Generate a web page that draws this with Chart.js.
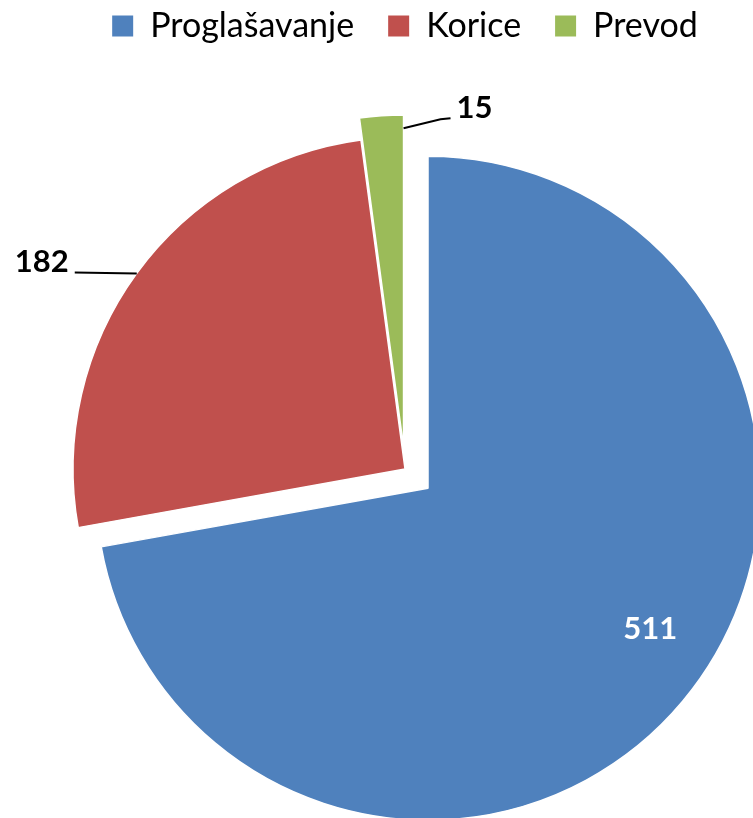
<!DOCTYPE html>
<html>
<head>
<meta charset="utf-8">
<script src="https://cdn.jsdelivr.net/npm/chart.js@4"></script>
<style>
  html, body { margin: 0; padding: 0; background: #fff; overflow: hidden; }
  #wrap { width: 753px; height: 885px; position: relative; }
</style>
</head>
<body>
<div id="wrap"><canvas id="c"></canvas></div>
<script>
// ---- data ----
const categories = ['Proglašavanje', 'Korice', 'Prevod'];
const values = [511, 182, 15];
const colors = ['#4F81BD', '#C0504D', '#9BBB59'];

// ---- style (not data) ----
const explode = [30, 0, 22];          // px each slice is pulled out along its mid angle
const FONT = 'Lato';

const explodePlugin = {
  id: 'explode',
  afterDatasetUpdate(chart, args) {
    const meta = chart.getDatasetMeta(args.index);
    meta.data.forEach((arc, i) => {
      const d = explode[i] || 0;
      const mid = (arc.startAngle + arc.endAngle) / 2;
      arc.x += Math.cos(mid) * d;
      arc.y += Math.sin(mid) * d;
    });
  }
};

const labelPlugin = {
  id: 'pieLabels',
  afterDatasetsDraw(chart) {
    const ctx = chart.ctx;
    const meta = chart.getDatasetMeta(0);
    const arcs = meta.data;
    ctx.save();
    ctx.font = 'bold 31px ' + FONT;
    ctx.lineWidth = 2;
    ctx.strokeStyle = '#000';

    // slice 0: inside label
    {
      const a = arcs[0];
      const ang = a.startAngle + 0.47 * (a.endAngle - a.startAngle);
      const r = 0.79 * a.outerRadius;
      const px = a.x + Math.cos(ang) * r, py = a.y + Math.sin(ang) * r;
      ctx.fillStyle = '#fff';
      ctx.textAlign = 'center';
      ctx.textBaseline = 'alphabetic';
      ctx.fillText(String(values[0]), px, py + 11);
    }
    // slice 1: outside left with leader
    {
      const a = arcs[1];
      const ang = (a.startAngle + a.endAngle) / 2;
      const sx = a.x + Math.cos(ang) * a.outerRadius, sy = a.y + Math.sin(ang) * a.outerRadius;
      ctx.beginPath();
      ctx.moveTo(sx, sy);
      ctx.lineTo(sx - 62, sy - 1);
      ctx.stroke();
      ctx.fillStyle = '#000';
      ctx.textAlign = 'right';
      ctx.textBaseline = 'alphabetic';
      ctx.fillText(String(values[1]), sx - 68, sy - 1.5);
    }
    // slice 2: outside top-right with leader
    {
      const a = arcs[2];
      const ang = a.endAngle;
      const r = 0.96 * a.outerRadius;
      const sx = a.x + Math.cos(ang) * r, sy = a.y + Math.sin(ang) * r;
      ctx.beginPath();
      ctx.moveTo(sx, sy);
      ctx.lineTo(sx + 37, sy - 9);
      ctx.lineTo(sx + 47, sy - 10);
      ctx.stroke();
      ctx.fillStyle = '#000';
      ctx.textAlign = 'left';
      ctx.textBaseline = 'alphabetic';
      ctx.fillText(String(values[2]), sx + 53, sy - 10);
    }
    ctx.restore();
  }
};

new Chart(document.getElementById('c'), {
  type: 'pie',
  data: {
    labels: categories,
    datasets: [{
      data: values,
      backgroundColor: colors,
      borderColor: '#ffffff',
      borderWidth: 1.5,
      clip: false
    }]
  },
  options: {
    responsive: true,
    maintainAspectRatio: false,
    animation: false,
    radius: 332,
    layout: { padding: { left: 57, right: 0, top: -25, bottom: 0 } },
    plugins: {
      tooltip: { enabled: false },
      legend: {
        position: 'top',
        labels: {
          boxWidth: 21,
          boxHeight: 21,
          padding: 34,
          color: '#000',
          font: { family: FONT, size: 34 },
          generateLabels(chart) {
            const items = Chart.overrides.doughnut.plugins.legend.labels.generateLabels(chart);
            items.forEach(it => { it.lineWidth = 0; it.strokeStyle = 'rgba(0,0,0,0)'; });
            return items;
          }
        }
      }
    }
  },
  plugins: [explodePlugin, labelPlugin]
});
</script>
</body>
</html>
